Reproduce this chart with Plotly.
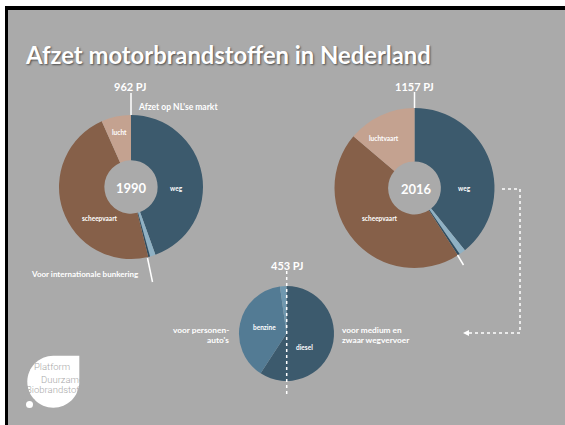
import plotly.graph_objects as go

W, H = 565, 425

# ---- data (PJ) ----
labels_main = ["weg", "binnenvaart", "overig", "scheepvaart", "luchtvaart"]
values_1990 = [428, 12, 4, 454, 64]
values_2016 = [453, 15, 5, 524, 160]
total_1990 = "962 PJ"
total_2016 = "1157 PJ"

labels_road = ["diesel", "benzine", "lpg"]
values_road = [268, 175, 10]
total_road = "453 PJ"

main_colors = ["#3c5a6d", "#8fb1c4", "#2f4d60", "#866049", "#c4a290"]
road_colors = ["#3c5a6d", "#537b94", "#7098af"]

BG = "#aaaaaa"
WHITE = "white"


def dom(cx, cy, r):
    return dict(x=[(cx - r) / W, (cx + r) / W], y=[1 - (cy + r) / H, 1 - (cy - r) / H])


fig = go.Figure()
fig.add_trace(go.Scatter(x=[None], y=[None], showlegend=False, hoverinfo="skip"))

common = dict(sort=False, direction="clockwise", rotation=0, textinfo="none",
              showlegend=False, marker_line_width=0)
fig.add_trace(go.Pie(labels=labels_main, values=values_1990, hole=0.37,
                     domain=dom(131, 187, 72), marker_colors=main_colors, **common))
fig.add_trace(go.Pie(labels=labels_main, values=values_2016, hole=0.33,
                     domain=dom(414.5, 188, 80), marker_colors=main_colors, **common))
fig.add_trace(go.Pie(labels=labels_road, values=values_road, hole=0,
                     domain=dom(286.5, 333.5, 47.5), marker_colors=road_colors, **common))

shapes = []
# frame
shapes.append(dict(type="rect", x0=5, y0=6, x1=W + 2, y1=H + 2, fillcolor="black", line_width=0, layer="below"))
shapes.append(dict(type="rect", x0=8, y0=10, x1=W + 2, y1=H + 2, fillcolor=BG, line_width=0, layer="below"))

# lines
def line(x0, y0, x1, y1, dash="solid", w=1.5):
    shapes.append(dict(type="line", x0=x0, y0=y0, x1=x1, y1=y1,
                       line=dict(color=WHITE, width=w, dash=dash), layer="above"))

line(131, 93, 131, 115)
line(414.5, 92, 414.5, 108)
line(147.5, 258, 152.5, 282)
line(457.5, 255, 463.5, 265)
line(286.7, 271, 286.7, 396, dash="dot", w=1.5)
line(502, 189, 520, 189, dash="dot", w=1.5)
line(520, 189, 520, 333, dash="dot", w=1.5)
line(520, 333, 467, 333, dash="dot", w=1.5)
shapes.append(dict(type="path", path="M 463,333 L 469,330 L 469,336 Z",
                   fillcolor=WHITE, line_width=0, layer="above"))

# logo
cx, cy, r = 53.3, 381.7, 26
k = 0.5523 * r
logo = (f"M {cx},{cy - r} L {cx + r},{cy - r} L {cx + r},{cy} "
        f"C {cx + r},{cy + k} {cx + k},{cy + r} {cx},{cy + r} "
        f"C {cx - k},{cy + r} {cx - r},{cy + k} {cx - r},{cy} "
        f"C {cx - r},{cy - k} {cx - k},{cy - r} {cx},{cy - r} Z")
shapes.append(dict(type="path", path=logo, fillcolor=WHITE, line_width=0, layer="above"))
shapes.append(dict(type="circle", x0=29.5 - 7, y0=404.5 - 7, x1=29.5 + 7, y1=404.5 + 7,
                   fillcolor=BG, line_width=0, layer="above"))
shapes.append(dict(type="circle", x0=29.5 - 3.5, y0=404.5 - 3.5, x1=29.5 + 3.5, y1=404.5 + 3.5,
                   fillcolor=WHITE, line_width=0, layer="above"))

ann = []


def txt(x, y, s, size, bold=True, xa="center", color=WHITE, family="Lato", weight=None, shadow=None):
    f = dict(size=size, color=color, family=family)
    f["weight"] = weight if weight is not None else (700 if bold else 400)
    if shadow:
        f["shadow"] = shadow
    ann.append(dict(x=x, y=y, text=s, showarrow=False, xanchor=xa, yanchor="middle",
                    font=f, xref="x", yref="y"))


txt(23, 55, "Afzet motorbrandstoffen in Nederland", 23.8, xa="left",
    family="Lato", shadow="1px 1px 2px rgba(0,0,0,0.55)")

txt(130, 86, total_1990, 11)
txt(136, 106.5, "Afzet op NL'se markt", 8.5, xa="left")
txt(119, 132, "lucht", 6.5)
txt(131, 188, "1990", 13)
txt(176, 188, labels_main[0], 6.5)
txt(100, 218, labels_main[3], 6.5)
txt(85, 274, "Voor internationale bunkering", 8)

txt(414, 86.5, total_2016, 11)
txt(384, 138, labels_main[4], 6.5)
txt(416, 189, "2016", 13)
txt(464, 188.5, labels_main[0], 6.5)
txt(380, 218, labels_main[3], 6.5)

txt(286.5, 265, total_road, 11)
txt(264, 327, labels_road[1], 6.5)
txt(304, 347, labels_road[0], 6.5)
txt(231, 330, "voor personen-", 8.3, xa="right")
txt(231, 339.7, "auto's", 8.3, xa="right")
txt(340, 330, "voor medium en", 8.3, xa="left")
txt(340, 339.7, "zwaar wegvervoer", 8.3, xa="left")

txt(32, 366, "Platform", 9.5, bold=False, xa="left", color=BG, family="Roboto", weight=300)
txt(39, 379.5, "Duurzame", 9.5, bold=False, xa="left", color=BG, family="Roboto", weight=300)
txt(24, 389.5, "Biobrandstoffen", 9.5, bold=False, xa="left", color=BG, family="Roboto", weight=300)

fig.update_layout(
    width=W, height=H, margin=dict(l=0, r=0, t=0, b=0),
    paper_bgcolor="white", plot_bgcolor="rgba(0,0,0,0)",
    xaxis=dict(range=[0, W], visible=False, domain=[0, 1], fixedrange=True),
    yaxis=dict(range=[H, 0], visible=False, domain=[0, 1], fixedrange=True),
    shapes=shapes, annotations=ann,
)

fig.write_html("out.html", config={"displayModeBar": False},
               post_script="document.body.style.margin='0';document.body.style.overflow='hidden';")
